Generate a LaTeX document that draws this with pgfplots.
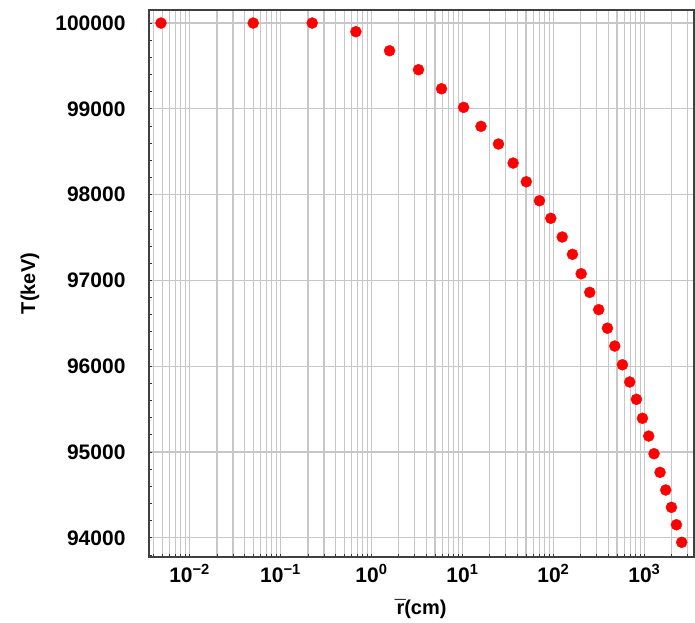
\documentclass[border=0pt]{standalone}
\usepackage{fontspec}
\setmainfont{Liberation Sans}
\usepackage{pgfplots}
\pgfplotsset{compat=1.18}
\begin{document}
\begin{tikzpicture}
\useasboundingbox (-149pt,-65pt) rectangle (546pt,557pt);
\begin{axis}[
  scale only axis, width=545pt, height=547pt,
  xmode=log, xmin=0.00358, xmax=3516,
  ymin=93776, ymax=100152,
  xtick={1e-2,1e-1,1,10,100,1000},
  xticklabels={10\textsuperscript{−2},10\textsuperscript{−1},10\textsuperscript{0},10\textsuperscript{1},10\textsuperscript{2},10\textsuperscript{3}},
  minor xtick={0.004,0.005,0.006,0.007,0.008,0.009,0.02,0.03,0.04,0.05,0.06,0.07,0.08,0.09,0.2,0.3,0.4,0.5,0.6,0.7,0.8,0.9,2,3,4,5,6,7,8,9,20,30,40,50,60,70,80,90,200,300,400,500,600,700,800,900,2000,3000},
  ytick={94000,95000,96000,97000,98000,99000,100000},
  yticklabels={94000,95000,96000,97000,98000,99000,100000},
  minor ytick={93800,94200,94400,94600,94800,95200,95400,95600,95800,96200,96400,96600,96800,97200,97400,97600,97800,98200,98400,98600,98800,99200,99400,99600,99800},
  xmajorgrids, xminorgrids, ymajorgrids,
  major grid style={color=black!22, line width=1.2pt},
  minor grid style={color=black!22, line width=1.2pt},
  xtick pos=bottom, ytick pos=left,
  tick align=inside,
  major tick length=3pt, minor tick length=3pt,
  tick style={black!80, line width=0.8pt},
  axis line style={black!75, line width=1.2pt},
  every tick label/.append style={font=\fontsize{21}{21}\selectfont\bfseries},
  yticklabel style={xshift=-20pt},
  xticklabel style={yshift=-4pt},
  xlabel={\accent"AF r(cm)},
  ylabel={T(keV)},
  label style={font=\fontsize{20}{20}\selectfont\bfseries},
  xlabel style={at={(axis description cs:0.5,-0.1042)}, anchor=base},
  ylabel style={at={(axis description cs:-0.2183,0.5)}, anchor=center},
]
\addplot[only marks, mark=*, mark size=5.5pt, mark options={fill=red, draw=red}] coordinates {
(0.00485,100000) (0.0501,100000) (0.223,100000) (0.674,99899)
(1.58,99677) (3.29,99456) (5.89,99234) (10.3,99017)
(16.0,98796) (24.9,98590) (36.1,98368) (50.4,98150)
(70.3,97929) (93.6,97724) (125,97506) (162,97304)
(202,97078) (251,96861) (315,96659) (393,96443)
(473,96235) (574,96017) (691,95816) (818,95614)
(953,95393) (1117,95186) (1278,94980) (1489,94763)
(1719,94557) (1986,94355) (2254,94152) (2576,93947)
};
\end{axis}
\end{tikzpicture}
\end{document}
